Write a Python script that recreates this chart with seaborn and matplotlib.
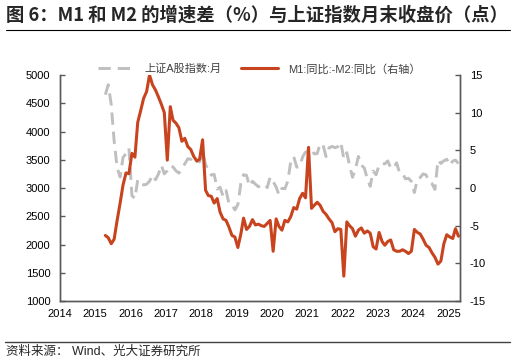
import matplotlib
matplotlib.use("Agg")
import matplotlib.pyplot as plt
import matplotlib.dates as mdates
from matplotlib.lines import Line2D
import pandas as pd
import seaborn as sns

# monthly data, Apr 2015 - Apr 2025
start_month = "2015-04-01"
end_month = "2025-04-01"

# 上证A股指数 month-end close (points)
sh_a_2015 = [4650, 4828, 4478, 3836, 3357, 3196, 3542, 3607, 3706]
sh_a_2016 = [2866, 2814, 3145, 3076, 3054, 3067, 3119, 3231, 3146, 3246, 3403, 3250]
sh_a_2017 = [3308, 3394, 3374, 3303, 3264, 3342, 3427, 3519, 3506, 3553, 3473, 3463]
sh_a_2018 = [3644, 3413, 3318, 3227, 3241, 2981, 3012, 2853, 2954, 2725, 2710, 2611]
sh_a_2019 = [2706, 3079, 3236, 3223, 3035, 3119, 3070, 3022, 3042, 3067, 3007, 3193]
sh_a_2020 = [3116, 3016, 2880, 2995, 2986, 3125, 3466, 3555, 3369, 3376, 3551, 3636]
sh_a_2021 = [3647, 3674, 3604, 3609, 3785, 3760, 3557, 3711, 3736, 3714, 3731, 3811]
sh_a_2022 = [3519, 3625, 3405, 3190, 3336, 3558, 3406, 3353, 3167, 3029, 3299, 3234]
sh_a_2023 = [3409, 3434, 3427, 3479, 3355, 3353, 3446, 3267, 3257, 3161, 3172, 3115]
sh_a_2024 = [2920, 3157, 3184, 3251, 3232, 3107, 3077, 2976, 3493, 3434, 3483, 3509]
sh_a_2025 = [3403, 3477, 3493, 3433]

# M1 yoy minus M2 yoy (%), right axis
gap_2015 = [-6.3, -6.6, -7.4, -6.8, -4.3, -2.0, 0.4, 2.0, 1.9]
gap_2016 = [4.6, 4.1, 8.7, 10.3, 11.9, 12.8, 15.0, 13.7, 13.0, 12.1, 11.1, 10.0]
gap_2017 = [3.7, 10.8, 9.0, 8.6, 8.0, 6.2, 6.6, 5.5, 5.1, 4.2, 3.6, 3.8]
gap_2018 = [6.4, -0.3, -1.0, -1.1, -2.0, -1.4, -3.2, -4.1, -4.3, -5.2, -6.3, -6.5]
gap_2019 = [-7.9, -6.1, -4.0, -5.5, -5.1, -4.2, -4.9, -4.8, -5.0, -5.1, -4.7, -4.3]
gap_2020 = [-8.4, -4.1, -5.1, -5.6, -4.3, -4.5, -3.8, -2.6, -2.8, -1.4, -0.7, -1.3]
gap_2021 = [5.4, -2.7, -2.3, -1.9, -2.3, -3.1, -3.5, -4.1, -4.6, -5.8, -5.4, -5.5]
gap_2022 = [-11.7, -4.5, -5.0, -5.4, -6.4, -5.6, -5.3, -6.0, -5.7, -6.0, -7.8, -8.1]
gap_2023 = [-5.9, -7.1, -7.6, -7.1, -6.9, -8.2, -8.4, -8.4, -8.2, -8.4, -8.7, -8.4]
gap_2024 = [-5.5, -5.9, -6.1, -6.8, -7.6, -7.9, -8.6, -9.2, -10.1, -9.7, -7.4, -6.2]
gap_2025 = [-6.5, -6.7, -5.4, -6.4]

title = "图 6：M1 和 M2 的增速差（%）与上证指数月末收盘价（点）"
label_index = "上证A股指数:月"
label_gap = "M1:同比:-M2:同比（右轴）"
source = "资料来源： Wind、光大证券研究所"

left_ticks = [1000, 1500, 2000, 2500, 3000, 3500, 4000, 4500, 5000]
right_ticks = [-15, -10, -5, 0, 5, 10, 15]

sh_a = (sh_a_2015 + sh_a_2016 + sh_a_2017 + sh_a_2018 + sh_a_2019 + sh_a_2020
        + sh_a_2021 + sh_a_2022 + sh_a_2023 + sh_a_2024 + sh_a_2025)
gap = (gap_2015 + gap_2016 + gap_2017 + gap_2018 + gap_2019 + gap_2020
       + gap_2021 + gap_2022 + gap_2023 + gap_2024 + gap_2025)
dates = pd.date_range(start_month, end_month, freq="MS") + pd.Timedelta(days=14)
df = pd.DataFrame({"date": dates, "sh_a": sh_a, "gap": gap})

sns.set_theme(style="white")
plt.rcParams["font.family"] = ["Liberation Sans", "Noto Sans CJK SC", "DejaVu Sans"]
plt.rcParams["axes.unicode_minus"] = False

gray = "#BFBFBF"
red = "#C8441F"
axis_col = "#595959"

fig = plt.figure(figsize=(5.16, 3.62), dpi=100)
ax = fig.add_axes([60 / 516, 1 - 301 / 362, 400 / 516, 226 / 362])
ax2 = ax.twinx()

sns.lineplot(data=df, x="date", y="sh_a", ax=ax, color=gray, lw=2.1,
             linestyle=(0, (4.2, 2.4)), legend=False)
sns.lineplot(data=df, x="date", y="gap", ax=ax2, color=red, lw=2.2, legend=False)

ax.set_xlim(pd.Timestamp("2014-01-01"), pd.Timestamp("2025-05-01"))
ax.set_ylim(1000, 5000)
ax2.set_ylim(-15, 15)
ax.set_yticks(left_ticks)
ax2.set_yticks(right_ticks)
ax.xaxis.set_major_locator(mdates.YearLocator())
ax.xaxis.set_major_formatter(mdates.DateFormatter("%Y"))
for a in (ax, ax2):
    a.set_xlabel("")
    a.set_ylabel("")
    a.grid(False)
    a.spines["top"].set_visible(False)
    for s in ("left", "right", "bottom"):
        a.spines[s].set_color(axis_col)
        a.spines[s].set_linewidth(1)
ax.tick_params(axis="both", direction="in", length=3.5, width=1, color=axis_col,
               labelcolor="black", labelsize=8, pad=7)
ax.tick_params(axis="x", pad=6)
ax2.tick_params(axis="y", direction="in", length=3.5, width=1, color=axis_col,
                labelcolor="black", labelsize=8, pad=7)

handles = [Line2D([], [], color=gray, lw=2.1, linestyle=(0, (4.2, 2.4))),
           Line2D([], [], color=red, lw=2.2)]
fig.legend(handles, [label_index, label_gap], loc="center",
           bbox_to_anchor=(259 / 516, 1 - 69 / 362), ncol=2, frameon=False,
           fontsize=8, handlelength=3.3, handletextpad=0.9, columnspacing=1.8,
           labelcolor="#404040")

fig.text(6 / 516, 1 - 15.5 / 362, title, fontsize=13.2, fontweight="bold",
         family=["Noto Sans CJK SC"], ha="left", va="center")
fig.add_artist(Line2D([6 / 516, 510 / 516], [1 - 30 / 362, 1 - 30 / 362],
                      color="black", lw=0.8))
fig.add_artist(Line2D([5 / 516, 510 / 516], [1 - 342 / 362, 1 - 342 / 362],
                      color="#404040", lw=1))
fig.text(6 / 516, 1 - 352 / 362, source, fontsize=9, ha="left", va="center")

fig.savefig("out.png", dpi=100)
